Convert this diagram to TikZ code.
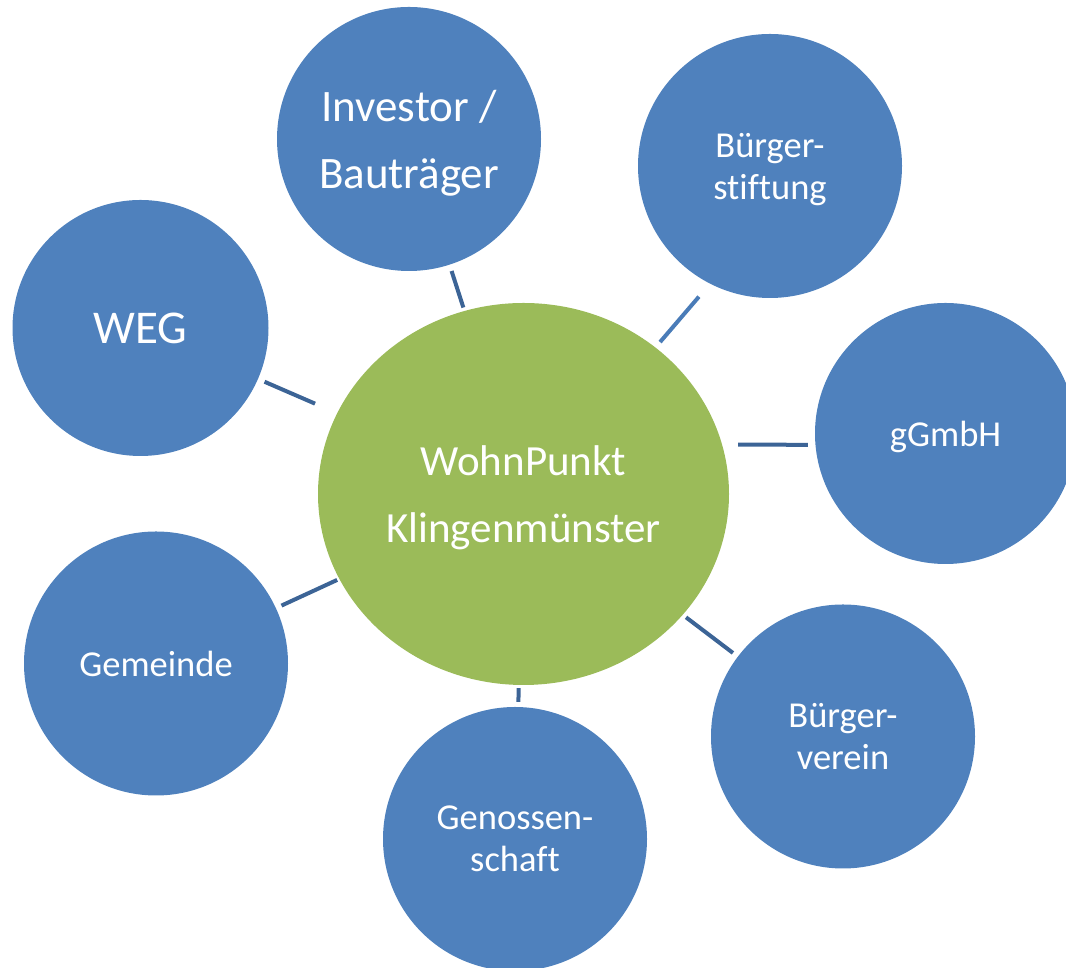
\documentclass[tikz,border=0pt]{standalone}
\usepackage{fontspec}
\setmainfont[Ligatures={NoCommon}]{Carlito}
\usetikzlibrary{shapes.geometric}
\definecolor{satblue}{HTML}{4F81BD}
\definecolor{hubgreen}{HTML}{9BBB59}
\definecolor{conndark}{HTML}{3C6496}
\definecolor{connlight}{HTML}{4A7CB8}
\begin{document}
\begin{tikzpicture}[x=1pt,y=1pt,
  sat/.style={circle, fill=satblue, draw=none, inner sep=0pt, minimum size=264pt,
    text=white, align=center, text depth=0pt, font=\fontsize{36.5}{42}\selectfont},
  hub/.style={ellipse, fill=hubgreen, draw=none, inner sep=0pt, minimum width=411pt,
    minimum height=382pt, text=white, align=center, text depth=0pt,
    font=\fontsize{43}{67}\selectfont},
  conn/.style={draw=conndark, line width=4pt},
  bigtext/.style={font=\fontsize{45}{67}\selectfont},
]
\useasboundingbox (0,0) rectangle (1066,968);
\clip (0,0) rectangle (1066,968);

\node[hub] (ctr) at (523.5,474) {WohnPunkt\\Klingenmünster};

\node[sat, bigtext] (inv) at (409,829) {Investor /\\Bauträger};
\node[sat] (bst) at (770,802) {Bürger-\\stiftung};
\node[sat, minimum size=256pt, font=\fontsize{47}{55}\selectfont] (weg) at (140.5,640) {WEG};
\node[sat, minimum size=261pt] (ggm) at (945.5,534.5) {gGmbH};
\node[sat] (gem) at (156,304.5) {Gemeinde};
\node[sat] (bvr) at (843,231.5) {Bürger-\\verein};
\node[sat] (gen) at (515,129) {Genossen-\\schaft};

\draw[conn, shorten <=6.5pt, shorten >=3.5pt] (inv) -- (ctr);
\draw[conn, draw=connlight, shorten <=17pt, shorten >=7pt] (bst.243) -- (ctr.48);
\draw[conn, shorten <=7pt, shorten >=24pt] (weg) -- (ctr);
\draw[conn, shorten <=7.4pt, shorten >=16pt] (ggm.185) -- (ctr.14);
\draw[conn, shorten <=6pt, shorten >=2.3pt] (gem) -- (ctr);
\draw[conn, shorten <=6pt, shorten >=4pt] (bvr) -- (ctr);
\draw[conn, shorten <=5pt, shorten >=3pt] (gen) -- (ctr);
\end{tikzpicture}
\end{document}
